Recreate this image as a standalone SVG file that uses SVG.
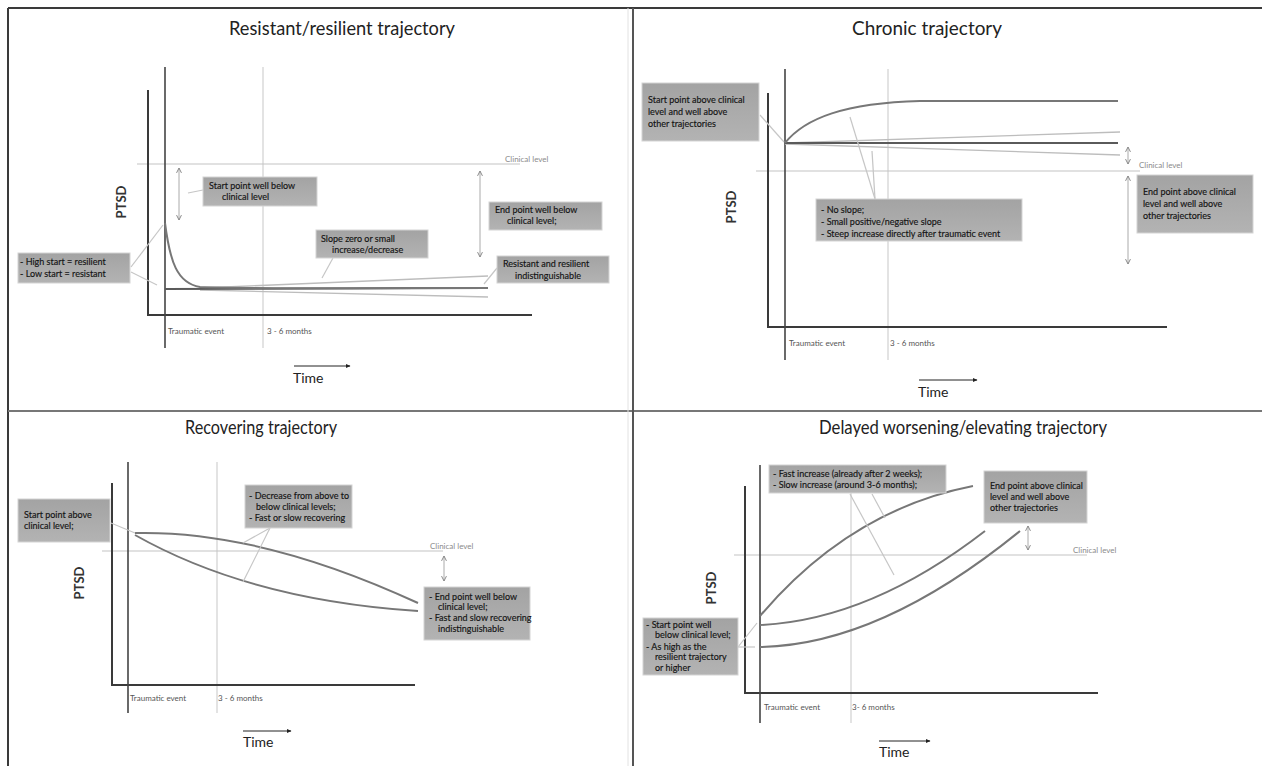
<svg xmlns="http://www.w3.org/2000/svg" width="1262" height="766" viewBox="0 0 1262 766">
<defs>
<linearGradient id="boxg" x1="0" y1="0" x2="0" y2="1">
<stop offset="0" stop-color="#a3a3a3"/>
<stop offset="1" stop-color="#b3b3b3"/>
</linearGradient>
<marker id="vh" viewBox="0 0 10 10" refX="9" refY="5" markerWidth="7" markerHeight="7" orient="auto-start-reverse" markerUnits="userSpaceOnUse">
<path d="M2,1.5 L9,5 L2,8.5" fill="none" stroke="#888" stroke-width="1.4"/>
</marker>
<marker id="ta" viewBox="0 0 10 10" refX="8" refY="5" markerWidth="5" markerHeight="5" orient="auto" markerUnits="userSpaceOnUse">
<path d="M0,1 L9,5 L0,9 Z" fill="#222"/>
</marker>
<style>
.title{font-family:Lato,"Liberation Sans",sans-serif;font-size:19px;fill:#222;text-anchor:middle}
.ptsd{font-family:Lato,"Liberation Sans",sans-serif;font-size:13px;font-weight:bold;fill:#333;text-anchor:middle}
.time{font-family:Lato,"Liberation Sans",sans-serif;font-size:14px;fill:#222}
.small{font-family:Lato,"Liberation Sans",sans-serif;font-size:8px;fill:#555}
.clab{font-family:Lato,"Liberation Sans",sans-serif;font-size:8px;fill:#8a8a8a}
.bt{font-family:Lato,"Liberation Sans",sans-serif;font-size:9px;fill:#141414;stroke:#141414;stroke-width:0.15}
.box{fill:url(#boxg);stroke:#d4d4d4;stroke-width:1}
.axis{stroke:#3a3a3a;stroke-width:2;fill:none}
.tev{stroke:#444;stroke-width:1.6;fill:none}
.mo{stroke:#d0d0d0;stroke-width:1.2;fill:none}
.clin{stroke:#c4c4c4;stroke-width:1.2;fill:none}
.curve{stroke:#777;stroke-width:2;fill:none}
.dark{stroke:#5a5a5a;stroke-width:2;fill:none}
.light{stroke:#bdbdbd;stroke-width:1.3;fill:none}
.con{stroke:#c6c6c6;stroke-width:1.2;fill:none}
.dbl{stroke:#aaa;stroke-width:1;fill:none;marker-start:url(#vh);marker-end:url(#vh)}
.tarr{stroke:#222;stroke-width:1;fill:none;marker-end:url(#ta)}
</style>
</defs>
<rect x="0" y="0" width="1262" height="766" fill="#fff"/>
<g id="frame">
<line x1="8" y1="8" x2="1262" y2="8" stroke="#3a3a3a" stroke-width="2"/>
<line x1="8" y1="8" x2="8" y2="766" stroke="#3a3a3a" stroke-width="2"/>
<line x1="8" y1="411" x2="1262" y2="411" stroke="#777" stroke-width="2"/>
<line x1="633" y1="8" x2="633" y2="766" stroke="#555" stroke-width="2"/>
<line x1="628" y1="8" x2="628" y2="766" stroke="#e2e2e2" stroke-width="1"/>
</g>

<!-- Panel 1 -->
<g id="panel1">
<text class="title" x="342" y="35" textLength="226" lengthAdjust="spacingAndGlyphs">Resistant/resilient trajectory</text>
<line class="mo" x1="263" y1="67" x2="263" y2="348"/>
<line class="clin" x1="137" y1="164" x2="520" y2="164"/>
<text class="clab" x="505" y="162">Clinical level</text>
<polyline class="axis" points="148,90 148,315 532,315"/>
<line class="tev" x1="165" y1="67" x2="165" y2="348"/>
<text class="small" x="168" y="334">Traumatic event</text>
<text class="small" x="267" y="334">3 - 6 months</text>
<text class="ptsd" transform="translate(126,202) rotate(-90)">PTSD</text>
<line class="tarr" x1="294" y1="366" x2="350" y2="366"/>
<text class="time" x="293" y="383">Time</text>
</g>
<g id="connectors1">
<path class="light" d="M200,288 L488,276"/>
<path class="light" d="M200,290 L488,297"/>
<path class="dark" d="M165,289 L488,288"/>
<path class="curve" d="M165,223 C170,262 177,283 200,287 C260,289 400,288 488,288"/>
<line class="dbl" x1="179" y1="168" x2="179" y2="220"/>
<line class="dbl" x1="480" y1="171" x2="480" y2="257"/>
<line class="con" x1="188" y1="193" x2="203" y2="190"/>
<line class="con" x1="131" y1="267" x2="163" y2="225"/>
<line class="con" x1="131" y1="272" x2="157" y2="285"/>
<line class="con" x1="333" y1="258" x2="322" y2="278"/>
<line class="con" x1="484" y1="284" x2="497" y2="268"/>
</g>
<g id="box1a"><rect class="box" x="203" y="177" width="114" height="29"/>
<text class="bt" x="209" y="189">Start point well below</text><text class="bt" x="222" y="200">clinical level</text></g>
<g id="box1b"><rect class="box" x="18" y="253" width="112" height="30"/>
<text class="bt" x="20" y="265">- High start = resilient</text><text class="bt" x="20" y="277">- Low start = resistant</text></g>
<g id="box1c"><rect class="box" x="316" y="230" width="112" height="28"/>
<text class="bt" x="321" y="242">Slope zero or small</text><text class="bt" x="332" y="253">increase/decrease</text></g>
<g id="box1d"><rect class="box" x="489" y="202" width="113" height="28"/>
<text class="bt" x="495" y="213">End point well below</text><text class="bt" x="507" y="224">clinical level;</text></g>
<g id="box1e"><rect class="box" x="497" y="256" width="112" height="27"/>
<text class="bt" x="503" y="267">Resistant and resilient</text><text class="bt" x="515" y="279">indistinguishable</text></g>

<!-- Panel 2 -->
<g id="panel2">
<text class="title" x="927" y="35" textLength="150" lengthAdjust="spacingAndGlyphs">Chronic trajectory</text>
<line class="mo" x1="888" y1="69" x2="888" y2="360"/>
<line class="clin" x1="756" y1="171" x2="1140" y2="171"/>
<text class="clab" x="1139" y="168">Clinical level</text>
<polyline class="axis" points="768,93 768,327 1167,327"/>
<line class="tev" x1="785" y1="69" x2="785" y2="360"/>
<text class="small" x="789" y="346">Traumatic event</text>
<text class="small" x="890" y="346">3 - 6 months</text>
<text class="ptsd" transform="translate(736,207) rotate(-90)">PTSD</text>
<line class="tarr" x1="919" y1="380" x2="977" y2="380"/>
<text class="time" x="918" y="397">Time</text>
</g>
<g id="connectors2">
<path class="light" d="M785,143 L1120,132"/>
<path class="light" d="M785,144 L1120,155"/>
<path class="dark" d="M785,143 L1118,143"/>
<path class="curve" d="M785,143 C805,118 845,103 920,101 L1118,101"/>
<line class="dbl" x1="1128" y1="147" x2="1128" y2="164"/>
<line class="dbl" x1="1128" y1="176" x2="1128" y2="264"/>
<line class="con" x1="760" y1="115" x2="784" y2="142"/>
<line class="con" x1="875" y1="199" x2="850" y2="117"/>
<line class="con" x1="875" y1="199" x2="872" y2="151"/>
</g>
<g id="box2a"><rect class="box" x="642" y="83" width="117" height="58"/>
<text class="bt" x="648" y="103">Start point above clinical</text><text class="bt" x="648" y="115">level and well above</text><text class="bt" x="648" y="127">other trajectories</text></g>
<g id="box2b"><rect class="box" x="816" y="199" width="206" height="42"/>
<text class="bt" x="821" y="213">- No slope;</text><text class="bt" x="821" y="225">- Small positive/negative slope</text><text class="bt" x="821" y="237">- Steep  increase directly after traumatic event</text></g>
<g id="box2c"><rect class="box" x="1137" y="175" width="116" height="58"/>
<text class="bt" x="1143" y="195">End point above clinical</text><text class="bt" x="1143" y="207">level and well above</text><text class="bt" x="1143" y="219">other trajectories</text></g>

<!-- Panel 3 -->
<g id="panel3">
<text class="title" x="261" y="434" textLength="152" lengthAdjust="spacingAndGlyphs">Recovering trajectory</text>
<line class="mo" x1="217" y1="462" x2="217" y2="713"/>
<line class="clin" x1="102" y1="551" x2="443" y2="551"/>
<text class="clab" x="430" y="549">Clinical level</text>
<polyline class="axis" points="112,483 112,685 415,685"/>
<line class="tev" x1="128" y1="462" x2="128" y2="713"/>
<text class="small" x="130" y="701">Traumatic event</text>
<text class="small" x="218" y="701">3 - 6 months</text>
<text class="ptsd" transform="translate(84,583) rotate(-90)">PTSD</text>
<line class="tarr" x1="243" y1="731" x2="291" y2="731"/>
<text class="time" x="243" y="747">Time</text>
</g>
<g id="connectors3">
<path class="curve" d="M135,533 Q260,530 418,603"/>
<path class="curve" d="M135,535 Q250,600 418,611"/>
<line class="dbl" x1="444" y1="556" x2="444" y2="581"/>
<line class="con" x1="111" y1="523" x2="135" y2="533"/>
<line class="con" x1="270" y1="528" x2="243" y2="543"/>
<line class="con" x1="270" y1="528" x2="243" y2="582"/>
</g>
<g id="box3a"><rect class="box" x="18" y="499" width="92" height="43"/>
<text class="bt" x="24" y="518">Start point above</text><text class="bt" x="24" y="529">clinical level;</text></g>
<g id="box3b"><rect class="box" x="245" y="485" width="107" height="43"/>
<text class="bt" x="249" y="499">- Decrease from above to</text><text class="bt" x="256" y="510">below clinical levels;</text><text class="bt" x="249" y="521">- Fast or slow recovering</text></g>
<g id="box3c"><rect class="box" x="424" y="587" width="106" height="53"/>
<text class="bt" x="429" y="600">- End point well below</text><text class="bt" x="438" y="610">clinical level;</text><text class="bt" x="429" y="621">- Fast and slow recovering</text><text class="bt" x="438" y="632">indistinguishable</text></g>

<!-- Panel 4 -->
<g id="panel4">
<text class="title" x="963" y="434" textLength="288" lengthAdjust="spacingAndGlyphs">Delayed worsening/elevating trajectory</text>
<line class="mo" x1="851" y1="465" x2="851" y2="723"/>
<line class="clin" x1="734" y1="555" x2="1087" y2="555"/>
<text class="clab" x="1073" y="553">Clinical level</text>
<polyline class="axis" points="745,486 745,693 1098,693"/>
<line class="tev" x1="760" y1="465" x2="760" y2="723"/>
<text class="small" x="764" y="710">Traumatic event</text>
<text class="small" x="852" y="710">3- 6 months</text>
<text class="ptsd" transform="translate(716,588) rotate(-90)">PTSD</text>
<line class="tarr" x1="879" y1="741" x2="930" y2="741"/>
<text class="time" x="879" y="757">Time</text>
</g>
<g id="connectors4">
<path class="curve" d="M760,616 Q850,510 973,486"/>
<path class="curve" d="M760,625 Q870,620 985,531"/>
<path class="curve" d="M760,647 Q880,645 1020,531"/>
<line class="dbl" x1="1028" y1="526" x2="1028" y2="550"/>
<line class="con" x1="850" y1="494" x2="894" y2="575"/>
<line class="con" x1="872" y1="494" x2="885" y2="518"/>
<line class="con" x1="738" y1="647" x2="755" y2="647"/>
<line class="con" x1="738" y1="647" x2="757" y2="623"/>
</g>
<g id="box4a"><rect class="box" x="769" y="465" width="177" height="28"/>
<text class="bt" x="773" y="477">- Fast increase (already after 2 weeks);</text><text class="bt" x="773" y="488">- Slow increase (around 3-6 months);</text></g>
<g id="box4b"><rect class="box" x="984" y="471" width="103" height="52"/>
<text class="bt" x="990" y="489">End point above clinical</text><text class="bt" x="990" y="500">level and well above</text><text class="bt" x="990" y="511">other trajectories</text></g>
<g id="box4c"><rect class="box" x="643" y="618" width="95" height="57"/>
<text class="bt" x="646" y="628">- Start point well</text><text class="bt" x="655" y="638">below clinical level;</text><text class="bt" x="646" y="650">- As high as the</text><text class="bt" x="655" y="660">resilient trajectory</text><text class="bt" x="655" y="671">or higher</text></g>
</svg>
